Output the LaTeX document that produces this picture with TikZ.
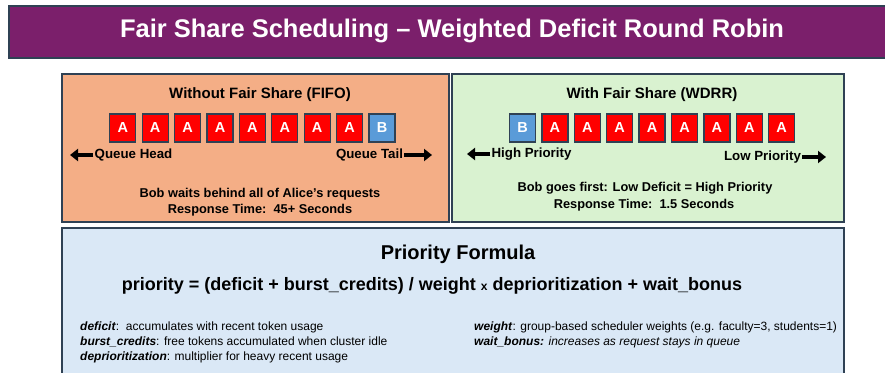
\documentclass[tikz,border=0pt]{standalone}
\usepackage{fontspec}
\setmainfont{Liberation Sans}
\usetikzlibrary{arrows.meta}

\definecolor{titlepurple}{HTML}{7B1F6B}
\definecolor{edgegray}{HTML}{2F4154}
\definecolor{fifofill}{HTML}{F4AE86}
\definecolor{wdrrfill}{HTML}{D9F2D0}
\definecolor{formulafill}{HTML}{DAE8F6}
\definecolor{reqred}{HTML}{FF0000}
\definecolor{reqblue}{HTML}{5A9BD8}

\tikzset{
  panel/.style={draw=edgegray, line width=1.6pt, anchor=north west, inner sep=0pt},
  req/.style={draw=edgegray, line width=1.3pt, minimum width=26pt, minimum height=28pt,
    inner sep=0pt, text=white, font=\bfseries\fontsize{14.5}{16}\selectfont},
  reqA/.style={req, fill=reqred},
  reqB/.style={req, fill=reqblue},
  heading/.style={font=\bfseries\fontsize{15}{18}\selectfont},
  note/.style={font=\bfseries\fontsize{12.8}{15}\selectfont, inner sep=0pt},
  endlabel/.style={font=\bfseries\fontsize{13.3}{15}\selectfont, inner sep=0pt},
  bigarrow/.style={line width=3.2pt, -{Triangle[length=8pt,width=12pt]}},
  defn/.style={font=\fontsize{12}{14}\selectfont, anchor=west, inner sep=0pt}
}

\begin{document}
\begin{tikzpicture}[x=1pt, y=1pt]
    \useasboundingbox (0,0) rectangle (885,-372);

    % Title bar
    \node[panel, fill=titlepurple, minimum width=882pt, minimum height=52pt] (titlebar) at (8,-5) {};
    \node[text=white, font=\bfseries\fontsize{25.5}{30}\selectfont] (title) at (452,-31)
        {Fair Share Scheduling – Weighted Deficit Round Robin};

    % Panels
    \node[panel, fill=fifofill, minimum width=387pt, minimum height=148pt] (fifo) at (61,-73) {};
    \node[panel, fill=wdrrfill, minimum width=392pt, minimum height=148pt] (wdrr) at (451,-73) {};
    \node[panel, fill=formulafill, minimum width=782pt, minimum height=160pt] (formula) at (61,-227) {};

    % FIFO queue
    \node[heading] (fifohead) at (260,-95) {Without Fair Share (FIFO)};
    \foreach \i in {1,...,8}
        \node[reqA] (fa\i) at ({122.8+(\i-1)*32.4},-128) {A};
    \node[reqB] (fb) at ({122.8+8*32.4},-128) {B};

    \node[endlabel] (qhead) at (133.5,-155) {Queue Head};
    \node[endlabel] (qtail) at (369.5,-155) {Queue Tail};
    \coordinate (qheadend) at (70,-155);
    \coordinate (qtailend) at (432,-155);
    \draw[bigarrow] ([xshift=-1pt]qhead.west) -- (qheadend);
    \draw[bigarrow] ([xshift=1pt]qtail.east) -- (qtailend);

    \node[note] (fifonote) at (260,-194) {Bob waits behind all of Alice’s requests};
    \node[note] (fiforesp) at (260,-210) {Response Time:\ \ 45+ Seconds};

    % WDRR queue
    \node[heading] (wdrrhead) at (652,-95) {With Fair Share (WDRR)};
    \node[reqB] (wb) at (522.5,-128) {B};
    \foreach \i in {1,...,8}
        \node[reqA] (wa\i) at ({522.5+\i*32.4},-128) {A};

    \node[endlabel] (hiprio) at (531.5,-154) {High Priority};
    \node[endlabel] (loprio) at (762.5,-157) {Low Priority};
    \coordinate (hiprioend) at (467,-154);
    \coordinate (loprioend) at (826,-157);
    \draw[bigarrow] ([xshift=-1pt]hiprio.west) -- (hiprioend);
    \draw[bigarrow] ([xshift=1pt]loprio.east) -- (loprioend);

    \node[note] (wdrrnote) at (645,-188) {Bob goes first: Low Deficit = High Priority};
    \node[note] (wdrrresp) at (644,-205) {Response Time:\ \ 1.5 Seconds};

    % Formula
    \node[font=\bfseries\fontsize{20}{24}\selectfont] (ftitle) at (458,-254) {Priority Formula};
    \node[font=\bfseries\fontsize{18}{22}\selectfont] (fline) at (432,-286)
        {priority = (deficit + burst\_credits) / weight {\fontsize{12}{14}\selectfont x} deprioritization + wait\_bonus};

    % Terms
    \node[defn] (tdeficit) at (80,-327) {\textbf{\textit{deficit}}:\ \ accumulates with recent token usage};
    \node[defn] (tburst) at (80,-342) {\textbf{\textit{burst\_credits}}: free tokens accumulated when cluster idle};
    \node[defn] (tdeprio) at (80,-357) {\textbf{\textit{deprioritization}}: multiplier for heavy recent usage};
    \node[defn] (tweight) at (474,-327) {\textbf{\textit{weight}}: group-based scheduler weights (e.g. faculty=3, students=1)};
    \node[defn] (twait) at (474,-342) {\textbf{\textit{wait\_bonus:}} \textit{increases as request stays in queue}};
\end{tikzpicture}
\end{document}
